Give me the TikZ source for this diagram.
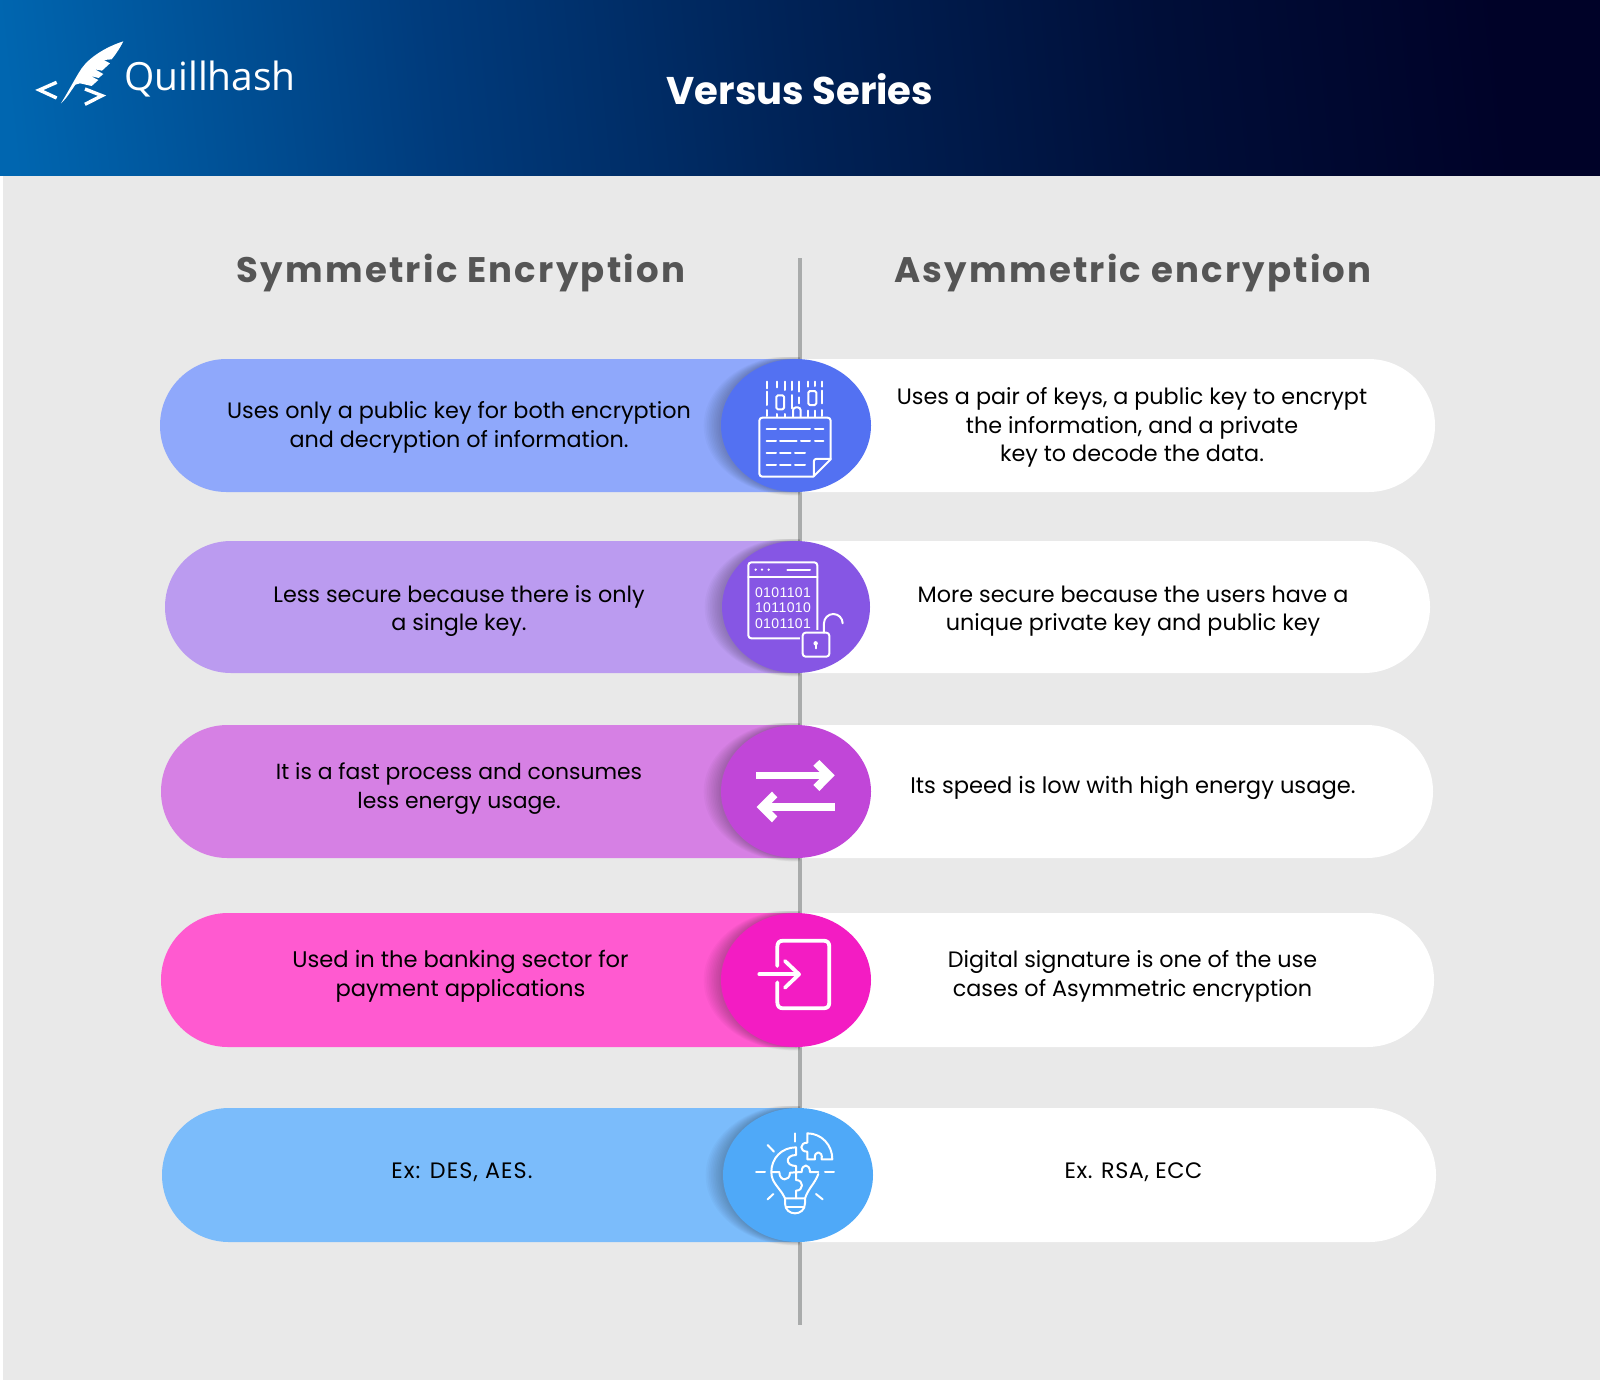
\documentclass[tikz,border=0pt]{standalone}
\usepackage{fontspec}
\setmainfont{Poppins}
\newfontfamily\bodyf{Poppins}
\newfontfamily\headf[LetterSpace=6.3]{Poppins}
\newfontfamily\logof{Open Sans}
\newfontfamily\binf[LetterSpace=3]{Liberation Sans}
\definecolor{bggray}{HTML}{E9E9E9}
\definecolor{axisgray}{HTML}{A9ABAB}
\definecolor{headgray}{HTML}{555555}
\definecolor{hA}{HTML}{0066B0}
\definecolor{hB}{HTML}{003B7C}
\definecolor{hC}{HTML}{002256}
\definecolor{hD}{HTML}{000E38}
\definecolor{hE}{HTML}{000228}
\pgfdeclarehorizontalshading{hdrshade}{100bp}{
 color(0bp)=(hA); color(23bp)=(hA); color(37.5bp)=(hB); color(50bp)=(hC); color(62.5bp)=(hD); color(74bp)=(hE); color(100bp)=(hE)}
\tikzset{
  bodytext/.style={font=\bodyf\fontsize{22.3}{28.6}\selectfont,text=black,align=center,inner sep=0pt},
  headtext/.style={font=\headf\bfseries\fontsize{35.5}{40}\selectfont,text=headgray,inner sep=0pt,anchor=base},
  iconline/.style={draw=white,line width=2pt,line cap=round,line join=round},
  iconthick/.style={draw=white,line width=3.8pt,line cap=round,line join=round},
  zoomframe/.style={x=0.3333pt,y=-0.3333pt},
  anchorpt/.style={inner sep=0pt,minimum size=0pt}
}
\newcommand{\pillrow}[9]{% top bot xl xr leftcol circol cx rx name
  \pgfmathsetmacro{\rr}{(#2-#1)/2}
  \fill[white] (800,#1) -- ({#4-\rr},#1) arc[start angle=-90,end angle=90,radius=\rr] -- (800,#2) -- cycle;
  \fill[#5] (800,#1) -- ({#3+\rr},#1) arc[start angle=-90,end angle=-270,radius=\rr] -- (800,#2) -- cycle;
  \pgfmathsetmacro{\cy}{(#1+#2)/2}
  \pgfmathsetmacro{\ry}{(#2-#1)/2}
  \begin{scope}
    \clip (600,{#1-2}) rectangle (800,{#2+3});
    \foreach \k in {0,1,...,9}{
      \fill[black,opacity=0.024] ({#7-2},\cy) ellipse[x radius={#8+\k*1.7},y radius={\ry+\k*0.4}];
    }
  \end{scope}
  \fill[#6] (#7,\cy) ellipse[x radius=#8,y radius=\ry];
  \node[anchorpt] (#9) at (#7,\cy) {};
}
\begin{document}
\begin{tikzpicture}[x=1pt,y=-1pt]
\useasboundingbox (0,0) rectangle (1600,1382);
\fill[white] (0,0) rectangle (1600,1382);
\fill[bggray] (3,175) rectangle (1600,1380);
% header
\shade[shading=hdrshade,shading angle=6] (0,0) rectangle (1600,175);
% axis
\coordinate (axisTop) at (800,258);
\coordinate (axisEnd) at (800,1325);
\draw[axisgray,line width=4pt] (axisTop) -- (axisEnd);
% logo
\begin{scope}[zoomframe]
  \fill[white] (370,124) .. controls (320,140) and (270,170) .. (245,205)
    .. controls (228,230) and (205,275) .. (183,310)
    .. controls (200,295) and (215,270) .. (226,254)
    -- (240,250) -- (275,258) -- (295,240) -- (272,228) -- (296,234) -- (310,222) -- (285,208) -- (306,212) -- (330,190) -- (312,180) -- (335,178)
    .. controls (350,160) and (362,140) .. (370,124) -- cycle;
  \draw[white,line width=3.4pt,miter limit=6] (170,247) -- (118,270) -- (170,294);
  \draw[white,line width=3.4pt,miter limit=6] (255,267) -- (306,287) -- (255,313);
\end{scope}
\node[anchor=base west,inner sep=0pt,text=white,font=\logof\fontsize{38.9}{44}\selectfont] (logoText) at (124,90) {Quillhash};
\node[anchor=base,inner sep=0pt,text=white,font=\bodyf\bfseries\fontsize{38.6}{44}\selectfont] (title) at (800,104) {Versus Series};
\node[headtext] (headL) at (461,282) {Symmetric Encryption};
\node[headtext] (headR) at (1133,282) {Asymmetric encryption};
% colours
\definecolor{a1}{HTML}{8FA8FB}\definecolor{b1}{HTML}{5371F2}
\definecolor{a2}{HTML}{BB9BF0}\definecolor{b2}{HTML}{8656E4}
\definecolor{a3}{HTML}{D680E4}\definecolor{b3}{HTML}{C146D8}
\definecolor{a4}{HTML}{FF5AD0}\definecolor{b4}{HTML}{F31CC3}
\definecolor{a5}{HTML}{7BBCFB}\definecolor{b5}{HTML}{4FA9F8}
\pillrow{359}{492}{160}{1435}{a1}{b1}{796}{75}{c1}
\pillrow{541}{673}{165}{1430}{a2}{b2}{796}{74}{c2}
\pillrow{725}{858}{161}{1433}{a3}{b3}{796}{75}{c3}
\pillrow{913}{1047}{161}{1434}{a4}{b4}{796}{75}{c4}
\pillrow{1108}{1242}{162}{1436}{a5}{b5}{798}{75}{c5}
% texts
\node[bodytext] (l1) at (459,427.5) {Uses only a public key for both encryption\\and decryption of information.};
\node[bodytext] (r1) at (1132,427.5) {Uses a pair of keys, a public key to encrypt\\the information, and a private\\key to decode the data.};
\node[bodytext] (l2) at (459,611) {Less secure because there is only\\a single key.};
\node[bodytext] (r2) at (1133,611) {More secure because the users have a\\unique private key and public key};
\node[bodytext,font=\bodyf\fontsize{21.9}{28.6}\selectfont] (l3) at (459,788.5) {It is a fast process and consumes\\less energy usage.};
\node[bodytext,font=\bodyf\fontsize{22.6}{28.6}\selectfont] (r3) at (1133,788) {Its speed is low with high energy usage.};
\node[bodytext,font=\bodyf\fontsize{22.6}{28.6}\selectfont] (l4) at (460.5,976.5) {Used in the banking sector for\\payment applications};
\node[bodytext] (r4) at (1132.5,976.5) {Digital signature is one of the use\\cases of Asymmetric encryption};
\node[bodytext,font=\bodyf\addfontfeature{LetterSpace=5}\fontsize{22.3}{28.6}\selectfont] (l5) at (462,1172) {Ex: DES, AES.};
\node[bodytext,font=\bodyf\addfontfeature{LetterSpace=2.5}\fontsize{22.3}{28.6}\selectfont] (r5) at (1133.5,1172) {Ex. RSA, ECC};
% icon 1
\begin{scope}[shift={(700,340)},zoomframe]
  \draw[iconline,rounded corners=3pt] (340,410) -- (178,410) -- (178,233) -- (392,233) -- (392,358);
  \draw[iconline] (392,358) -- (340,410);
  \draw[iconline,rounded corners=2pt] (392,357) -- (342,357) -- (342,408);
  \foreach \a/\b/\c in {268/200/228,268/240/330,268/345/370,304/200/228,304/240/290,304/303/330,304/345/370,340/200/228,340/240/272,340/285/315,375/200/228,375/240/272,375/285/315}
    \draw[iconline] (\b,\a) -- (\c,\a);
  \foreach \x/\p/\q in {202/125/145,202/155/195,202/210/228,232/125/142,255/125/150,275/125/150,275/165/205,297/125/155,297/172/190,323/125/140,345/125/138,367/125/140,367/152/190,367/210/228,232/222/230,255/222/230,345/212/230,323/212/230}
    \draw[iconline] (\x,\p) -- (\x,\q);
  \draw[iconline,rounded corners=1.5pt] (229,166) rectangle (252,208);
  \draw[iconline,rounded corners=1.5pt] (325,153) rectangle (349,195);
  \draw[iconline,rounded corners=3pt] (279,230) -- (279,202) -- (302,202) -- (302,230);
\end{scope}
% icon 2
\begin{scope}[shift={(700,530)},zoomframe]
  \draw[iconline,rounded corners=3pt] (305,325) -- (145,325) -- (145,97) -- (352,97) -- (352,305);
  \draw[iconline] (145,140) -- (352,140);
  \foreach \x in {167,186,206} \fill[white] (\x,119) circle (1.3pt);
  \draw[iconline] (262,119) -- (330,119);
  \node[font=\binf\fontsize{14}{15}\selectfont,text=white,inner sep=0pt] (b1) at (249,188) {0101101};
  \node[font=\binf\fontsize{14}{15}\selectfont,text=white,inner sep=0pt] (b2) at (249,234) {1011010};
  \node[font=\binf\fontsize{14}{15}\selectfont,text=white,inner sep=0pt] (b3) at (249,280) {0101101};
  \fill[b2] (300,300) rectangle (395,385);
  \draw[iconline,rounded corners=3pt] (308,308) rectangle (388,380);
  \fill[white] (347,340) circle (2.2pt);
  \draw[iconline] (347,340) -- (347,355);
  \draw[iconline] (372,308) -- (372,280) arc[start angle=180,end angle=360,radius=28];
\end{scope}
% icon 3
\begin{scope}[shift={(700,715)},zoomframe]
  \fill[white] (168,170) rectangle (375,193);
  \fill[white] (358,135) -- (404,181) -- (358,228) -- (340,210) -- (369,181) -- (340,152) -- cycle;
  \fill[white] (200,264) rectangle (404,288);
  \fill[white] (216,230) -- (170,276) -- (216,322) -- (232,304) -- (203,276) -- (232,247) -- cycle;
\end{scope}
% icon 4
\begin{scope}[shift={(700,900)},zoomframe]
  \draw[iconthick] (232,198) -- (232,140) .. controls (232,128) and (238,122) .. (250,122) -- (370,122) .. controls (382,122) and (388,128) .. (388,140) -- (388,307) .. controls (388,319) and (382,325) .. (370,325) -- (250,325) .. controls (238,325) and (232,319) .. (232,307) -- (232,247);
  \draw[iconthick] (178,223) -- (295,223);
  \draw[iconthick] (255,183) -- (297,223) -- (255,263);
\end{scope}
% icon 5
\begin{scope}[shift={(700,1100)},zoomframe]
  \foreach \p/\q in {{(284,100)}/{(284,125)},{(203,135)}/{(222,155)},{(168,216)}/{(195,216)},{(203,298)}/{(220,282)},{(348,282)}/{(368,298)},{(375,216)}/{(402,216)}}
    \draw[iconline] \p -- \q;
  \draw[iconline] (288,142) .. controls (245,142) and (214,175) .. (214,216) .. controls (214,250) and (240,262) .. (255,295) -- (315,295) .. controls (325,265) and (345,250) .. (355,222);
  \draw[iconline] (255,295) -- (255,310) .. controls (255,350) and (315,350) .. (315,310) -- (315,295);
  \draw[iconline] (258,320) -- (312,320);
  \draw[iconline] (288,142) -- (288,165) .. controls (255,165) and (255,198) .. (288,198) -- (288,240) .. controls (312,240) and (312,272) .. (288,272) -- (288,295);
  \draw[iconline] (216,216) -- (238,216) .. controls (238,245) and (270,245) .. (270,218) -- (305,216) .. controls (305,190) and (330,190) .. (330,216) -- (355,216);
  \draw[iconline] (322,100) -- (322,128) .. controls (298,128) and (298,155) .. (322,155) -- (322,178) -- (345,178) .. controls (340,150) and (370,150) .. (365,178) -- (397,178) .. controls (397,135) and (365,100) .. (322,100) -- cycle;
\end{scope}
\end{tikzpicture}
\end{document}
